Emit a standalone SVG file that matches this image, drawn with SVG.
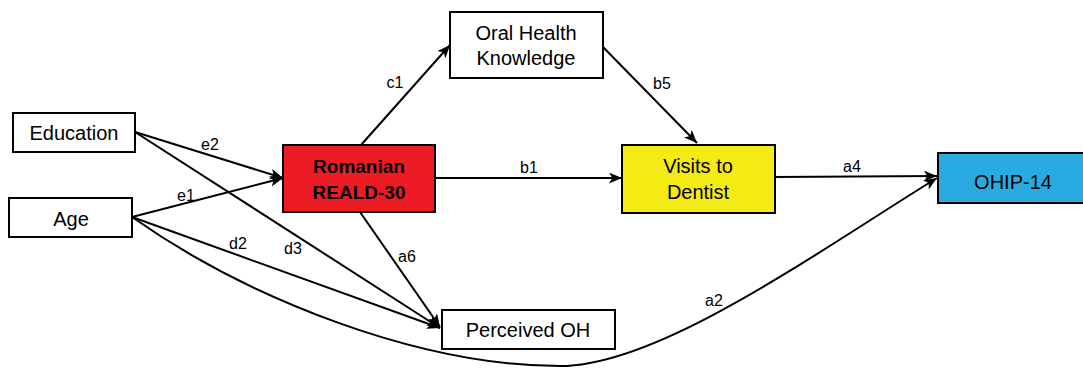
<svg xmlns="http://www.w3.org/2000/svg" width="1083" height="369" viewBox="0 0 1083 369">
<style>
.box{stroke:#000;stroke-width:2}
.t{font-family:"Liberation Sans",Arial,sans-serif;font-size:20px;fill:#000;text-anchor:middle}
.b{font-weight:bold;font-size:19px}
.lbl{font-family:"Liberation Sans",Arial,sans-serif;font-size:16px;fill:#000;text-anchor:middle}
.c{fill:none;stroke:#000;stroke-width:2;marker-end:url(#ah)}
</style>
<defs>
<marker id="ah" viewBox="0 0 12 10" refX="12" refY="5" markerWidth="13" markerHeight="11" markerUnits="userSpaceOnUse" orient="auto">
<path d="M0,0 L12,5 L0,10 L3,5 z" fill="#000"/>
</marker>
</defs>
<rect width="1083" height="369" fill="#fff"/>
<g id="connectors">
<line class="c" x1="135" y1="132" x2="283" y2="178"/>
<line class="c" x1="132" y1="217" x2="283" y2="178"/>
<line class="c" x1="135" y1="132" x2="440" y2="328"/>
<line class="c" x1="132" y1="217" x2="440" y2="328"/>
<line class="c" x1="360" y1="212" x2="440" y2="327"/>
<line class="c" x1="361" y1="145" x2="450" y2="45"/>
<line class="c" x1="435" y1="178" x2="622" y2="178"/>
<line class="c" x1="603" y1="47" x2="697" y2="143"/>
<line class="c" x1="775" y1="177" x2="937" y2="176"/>
<path class="c" d="M132,217 C250,300 420,366 560,366 C660,366 820,250 937,178"/>
<text class="lbl" x="210" y="150">e2</text>
<text class="lbl" x="186" y="201">e1</text>
<text class="lbl" x="395" y="88">c1</text>
<text class="lbl" x="529" y="173">b1</text>
<text class="lbl" x="662" y="89">b5</text>
<text class="lbl" x="852" y="172">a4</text>
<text class="lbl" x="238" y="249">d2</text>
<text class="lbl" x="293" y="254">d3</text>
<text class="lbl" x="407" y="262">a6</text>
<text class="lbl" x="714" y="306">a2</text>
</g>
<g id="education">
<rect class="box" x="13" y="113" width="122" height="39" fill="#fff"/>
<text class="t" x="74" y="140">Education</text>
</g>
<g id="age">
<rect class="box" x="9" y="198" width="123" height="39" fill="#fff"/>
<text class="t" x="71" y="226">Age</text>
</g>
<g id="romanian">
<rect class="box" x="283" y="145" width="152" height="67" fill="#ED1C24"/>
<text class="t b" x="359" y="173">Romanian</text>
<text class="t b" x="359" y="199">REALD-30</text>
</g>
<g id="oral">
<rect class="box" x="450" y="12" width="153" height="66" fill="#fff"/>
<text class="t" x="526" y="40">Oral Health</text>
<text class="t" x="526" y="65">Knowledge</text>
</g>
<g id="visits">
<rect class="box" x="622" y="145" width="153" height="68" fill="#F4EB14"/>
<text class="t" x="698" y="173">Visits to</text>
<text class="t" x="698" y="199">Dentist</text>
</g>
<g id="ohip">
<rect class="box" x="938" y="153" width="146" height="50" fill="#29ABE2"/>
<text class="t" x="1013" y="189">OHIP-14</text>
</g>
<g id="perceived">
<rect class="box" x="442" y="310" width="173" height="39" fill="#fff"/>
<text class="t" x="528" y="337">Perceived OH</text>
</g>
</svg>
